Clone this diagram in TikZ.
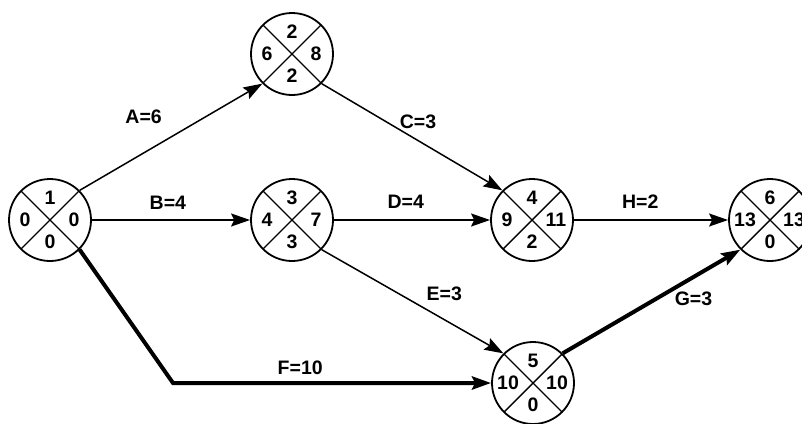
\documentclass[tikz,border=0pt]{standalone}
\usepackage{fontspec}
\setmainfont{Liberation Sans}
\usetikzlibrary{arrows.meta}

\tikzset{
  event/.style={circle,draw,line width=1.8pt,minimum size=82pt,inner sep=0pt,
    path picture={\draw[line width=1.4pt]
      (path picture bounding box.north west) -- (path picture bounding box.south east)
      (path picture bounding box.north east) -- (path picture bounding box.south west);}},
  num/.style={font=\fontsize{19.5}{22}\selectfont\bfseries,inner sep=0pt},
  act/.style={line width=1.5pt,-{Stealth[length=19pt,width=13pt,inset=3pt]}},
  crit/.style={act,line width=4pt},
  lbl/.style={font=\fontsize{19.5}{22}\selectfont\bfseries,inner sep=0pt}
}

% name, position, top, left, right, bottom
\newcommand{\eventnode}[6]{%
  \node[event] (#1) at (#2) {};
  \node[num] (#1t) at ([yshift=22pt]#1.center) {#3};
  \node[num] (#1l) at ([xshift=-25pt]#1.center) {#4};
  \node[num] (#1r) at ([xshift=24pt]#1.center) {#5};
  \node[num] (#1b) at ([yshift=-22pt]#1.center) {#6};
}

\begin{document}
\begin{tikzpicture}[x=1pt,y=-1pt]
\useasboundingbox (0,0) rectangle (802,423); % khung

% cac su kien
\eventnode{n1}{50,220}{1}{0}{0}{0}
\eventnode{n2}{292,54}{2}{6}{8}{2}
\eventnode{n3}{292,220}{3}{4}{7}{3}
\eventnode{n4}{532,220}{4}{9}{11}{2}
\eventnode{n5}{533,383}{5}{10}{10}{0}
\eventnode{n6}{770,220}{6}{13}{13}{0}
\coordinate (goc) at (173,383); % diem gay cua F

% cac cong viec
\draw[act] (n1.north east) -- node[lbl,pos=.35,yshift=36pt] {A=6} (n2.south west);
\draw[act] (n1.east) -- node[lbl,pos=.48,yshift=17pt] {B=4} (n3.west);
\draw[act] (n2.south east) -- node[lbl,pos=.5,xshift=6pt,yshift=15pt] {C=3} (n4.north west);
\draw[act] (n3.east) -- node[lbl,pos=.46,yshift=18pt] {D=4} (n4.west);
\draw[act] (n3.south east) -- node[lbl,pos=.62,xshift=10pt,yshift=20pt] {E=3} (n5.north west);
\draw[crit] (n1.south east) -- (goc) -- node[lbl,pos=.4,yshift=15pt] {F=10} (n5.west);
\draw[crit] (n5.north east) -- node[lbl,pos=.68,xshift=10pt,yshift=-16pt] {G=3} (n6.south west);
\draw[act] (n4.east) -- node[lbl,pos=.43,yshift=18pt] {H=2} (n6.west);
\end{tikzpicture}
\end{document}
